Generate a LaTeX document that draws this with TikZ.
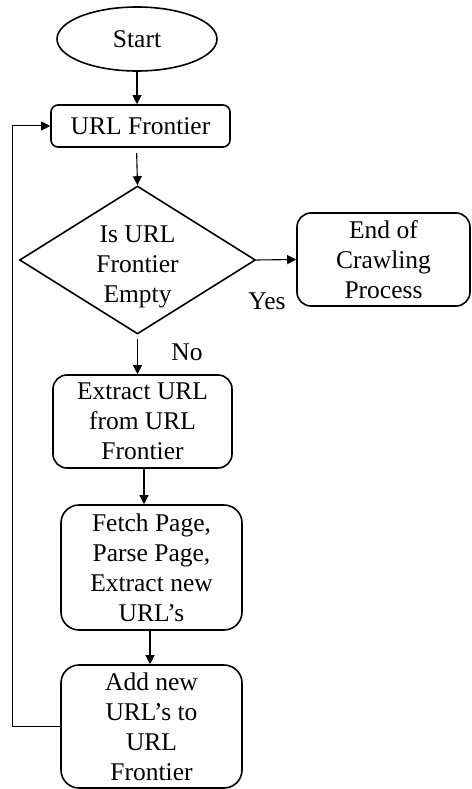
\documentclass[tikz,border=0pt]{standalone}
\usepackage{fontspec}
\setmainfont{Liberation Serif}
\usetikzlibrary{shapes.geometric,arrows.meta}

\begin{document}
\begin{tikzpicture}[x=1pt,y=-1pt,
  every node/.style={font=\fontsize{25.5}{30}\selectfont, align=center, inner sep=0pt},
  boxed/.style={draw, line width=1.6pt, rectangle, rounded corners=14pt},
  terminal/.style={draw, line width=1.6pt, ellipse},
  decision/.style={draw, line width=1.6pt, diamond, aspect=1.6},
  arr/.style={-{Triangle[length=9pt,width=9pt]}, line width=1.1pt},
  looparr/.style={-{Triangle[length=9pt,width=9pt]}, line width=1pt}]

\useasboundingbox (0,0) rectangle (471,789);

% flow nodes
\node[terminal, minimum width=160pt, minimum height=64pt] (start) at (137,39) {Start};
\node[boxed, rounded corners=7pt, minimum width=179pt, minimum height=42pt] (front) at (140.5,126) {URL Frontier};
\node[decision, minimum width=236pt, minimum height=148pt] (dia) at (137.5,260) {\rule{0pt}{30pt}Is URL\\Frontier\\Empty};
\node[boxed, minimum width=173pt, minimum height=93pt] (end) at (383.5,259.5) {End of\\Crawling\\Process};
\node[boxed, minimum width=179pt, minimum height=93pt] (ext) at (142.5,421.5) {Extract URL\\from URL\\Frontier};
\node[boxed, rounded corners=18pt, minimum width=181pt, minimum height=125pt] (fetch) at (151.5,567.5) {Fetch Page,\\Parse Page,\\Extract new\\URL’s};
\node[boxed, rounded corners=18pt, minimum width=181pt, minimum height=123pt] (add) at (151.5,726.5) {Add new\\URL’s to\\URL\\Frontier};

% branch labels
\node (yes) at (267,301) {Yes};
\node (no) at (187,352) {No};

% connectors
\draw[arr] (start.south) -- (start.south |- front.north);
\draw[arr, shorten <=5pt] ([xshift=-4pt]front.south) -- (dia.north);
\draw[arr] (dia.east) -- (end.west);
\draw[arr, shorten <=4pt] (dia.south) -- (dia.south |- ext.north);
\draw[arr] ([xshift=1.5pt]ext.south) -- ([xshift=1.5pt]ext.south |- fetch.north);
\draw[arr] ([xshift=-1.5pt]fetch.south) -- ([xshift=-1.5pt]add.north);

% loop back to the frontier
\coordinate (lp) at (12,726.5);
\draw[looparr] (add.west) -- (lp) |- (front.west);

\end{tikzpicture}
\end{document}
